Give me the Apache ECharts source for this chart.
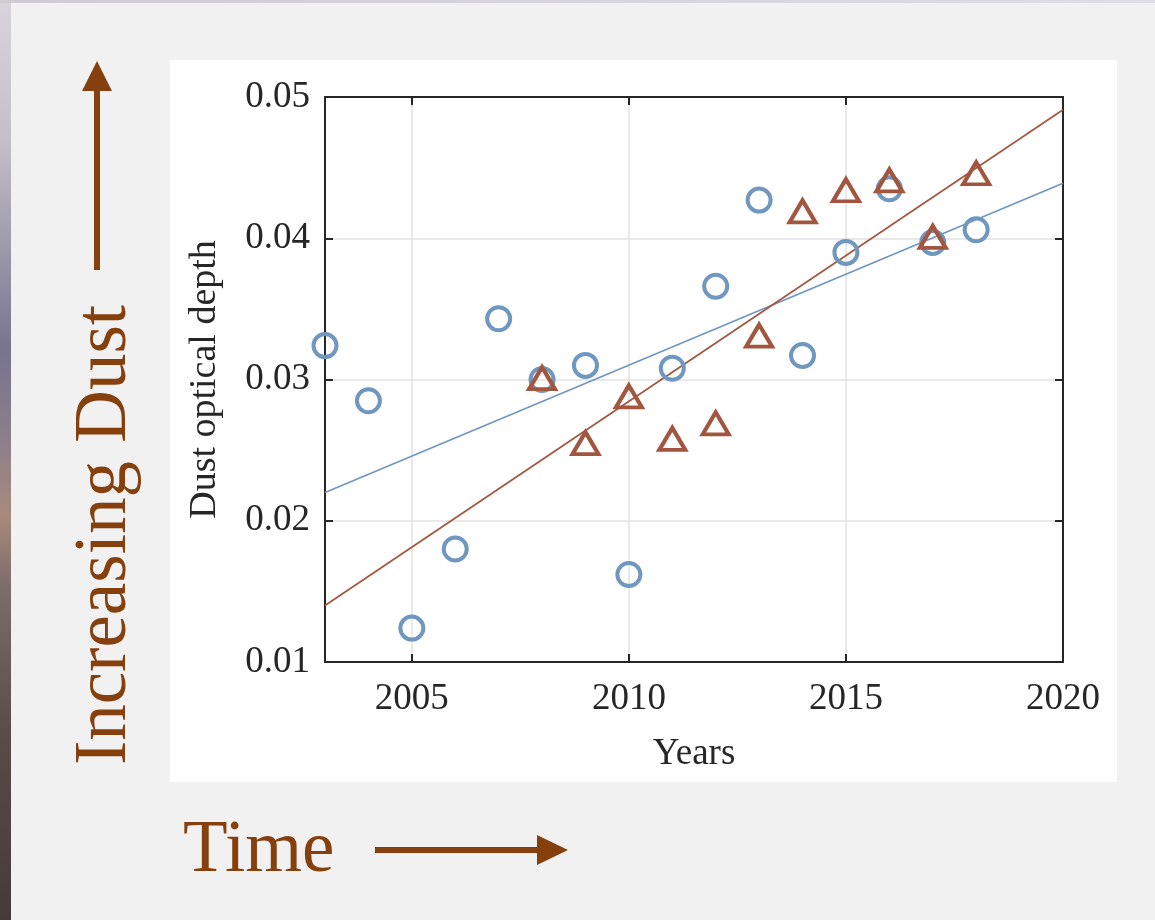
<!DOCTYPE html>
<html>
<head>
<meta charset="utf-8">
<script src="https://cdn.jsdelivr.net/npm/echarts@6/dist/echarts.min.js"></script>
<style>
html,body{margin:0;padding:0;background:#f1f1f1;}
#chart{width:1155px;height:920px;}
</style>
</head>
<body>
<div id="chart"></div>
<script>
// ---- data ----
const circleYears = [2003,2004,2005,2006,2007,2008,2009,2010,2011,2012,2013,2014,2015,2016,2017,2018];
const circleValues = [0.0324,0.0285,0.0124,0.0180,0.0343,0.0300,0.0310,0.0162,0.0308,0.0366,0.0427,0.0317,0.0390,0.0435,0.0397,0.0406];
const triangleYears = [2008,2009,2010,2011,2012,2013,2014,2015,2016,2017,2018];
const triangleValues = [0.0301,0.0255,0.0288,0.0258,0.0269,0.0331,0.0419,0.0434,0.0441,0.0401,0.0446];
const fitYears = [2003,2020];
const circleFit = [0.0220,0.0439];
const triangleFit = [0.0140,0.0491];
const xTicks = [2005,2010,2015,2020];
const yTicks = [0.01,0.02,0.03,0.04,0.05];

const BLUE = '#7097c0';
const RED = '#a3563f';
const BROWN = '#86400e';
const FONT = '"Liberation Serif", "DejaVu Serif", serif';

const pairs = (xs, ys) => xs.map((x, i) => [x, ys[i]]);

const chart = echarts.init(document.getElementById('chart'), null, {renderer: 'canvas'});

const axisLineStyle = {color: '#262626', width: 2};
const baseX = {
  type: 'value', min: 2003, max: 2020,
  axisLine: {show: true, onZero: false, lineStyle: axisLineStyle},
  axisTick: {show: true, inside: true, length: 8, customValues: xTicks, lineStyle: axisLineStyle},
};
const baseY = {
  type: 'value', min: 0.01, max: 0.05, interval: 0.01,
  axisLine: {show: true, onZero: false, lineStyle: axisLineStyle},
  axisTick: {show: true, inside: true, length: 8, lineStyle: axisLineStyle},
};

const option = {
  backgroundColor: '#f1f1f1',
  animation: false,
  grid: {left: 325, top: 97, width: 738, height: 565, containLabel: false},
  xAxis: [
    Object.assign({}, baseX, {
      position: 'bottom',
      name: 'Years', nameLocation: 'middle', nameGap: 74,
      nameTextStyle: {fontFamily: FONT, fontSize: 37, color: '#262626'},
      axisLabel: {show: true, customValues: xTicks, margin: 19, fontFamily: FONT, fontSize: 37, color: '#262626',
        formatter: v => String(v)},
      splitLine: {show: true, lineStyle: {color: '#e2e2e2', width: 1.5}}
    }),
    Object.assign({}, baseX, {
      position: 'top',
      axisLabel: {show: false},
      splitLine: {show: false}
    })
  ],
  yAxis: [
    Object.assign({}, baseY, {
      position: 'left',
      name: 'Dust optical depth', nameLocation: 'middle', nameGap: 101, nameRotate: 90,
      nameTextStyle: {fontFamily: FONT, fontSize: 38, color: '#262626'},
      axisLabel: {show: true, margin: 15, fontFamily: FONT, fontSize: 37, color: '#262626',
        verticalAlign: 'middle', padding: [8, 0, 0, 0],
        formatter: v => v.toFixed(2)},
      splitLine: {show: true, lineStyle: {color: '#e2e2e2', width: 1.5}}
    }),
    Object.assign({}, baseY, {
      position: 'right',
      axisLabel: {show: false},
      splitLine: {show: false}
    })
  ],
  series: [
    {
      type: 'line', xAxisIndex: 0, yAxisIndex: 0,
      data: pairs(fitYears, circleFit), symbol: 'none',
      lineStyle: {color: BLUE, width: 1.7}, z: 3
    },
    {
      type: 'line', xAxisIndex: 0, yAxisIndex: 0,
      data: pairs(fitYears, triangleFit), symbol: 'none',
      lineStyle: {color: RED, width: 1.7}, z: 3
    },
    {
      type: 'scatter', xAxisIndex: 0, yAxisIndex: 0,
      data: pairs(circleYears, circleValues),
      symbol: 'circle', symbolSize: 23,
      itemStyle: {color: 'rgba(0,0,0,0)', borderColor: BLUE, borderWidth: 4, opacity: 1},
      z: 4
    },
    {
      type: 'scatter', xAxisIndex: 0, yAxisIndex: 0,
      data: pairs(triangleYears, triangleValues),
      symbol: 'triangle', symbolSize: [26, 22],
      itemStyle: {color: 'rgba(0,0,0,0)', borderColor: RED, borderWidth: 4, borderJoin: 'miter', opacity: 1},
      z: 5
    }
  ],
  graphic: [
    // left photo strip
    {type: 'rect', z: -100, shape: {x: 0, y: 0, width: 11, height: 920},
      style: {fill: new echarts.graphic.LinearGradient(0, 0, 0, 1, [
        {offset: 0, color: '#d8d4dc'},
        {offset: 0.15, color: '#c4c0ca'},
        {offset: 0.38, color: '#77758d'},
        {offset: 0.48, color: '#8c7f8a'},
        {offset: 0.56, color: '#a88a7c'},
        {offset: 0.64, color: '#7c6c6a'},
        {offset: 0.8, color: '#5a4b4b'},
        {offset: 1, color: '#473a3a'}
      ])}},
    // top strip
    {type: 'rect', z: -100, shape: {x: 0, y: 0, width: 1155, height: 3},
      style: {fill: new echarts.graphic.LinearGradient(0, 0, 1, 0, [
        {offset: 0, color: '#cfcbd3'},
        {offset: 1, color: '#dedde3'}
      ])}},
    // white panel
    {type: 'rect', z: -90, shape: {x: 170, y: 60, width: 947, height: 722},
      style: {fill: '#ffffff'}},
    // vertical arrow
    {type: 'line', z: 10, shape: {x1: 97, y1: 270, x2: 97, y2: 86},
      style: {stroke: BROWN, lineWidth: 6}},
    {type: 'polygon', z: 10, shape: {points: [[82, 91], [112, 91], [97, 61]]},
      style: {fill: BROWN}},
    // horizontal arrow
    {type: 'line', z: 10, shape: {x1: 375, y1: 850, x2: 542, y2: 850},
      style: {stroke: BROWN, lineWidth: 6}},
    {type: 'polygon', z: 10, shape: {points: [[537, 835], [537, 865], [568, 850]]},
      style: {fill: BROWN}},
    // big texts
    {type: 'text', z: 10, x: 106, y: 535, rotation: Math.PI / 2,
      style: {text: 'Increasing Dust', font: '73px ' + FONT, fill: BROWN, align: 'center', verticalAlign: 'middle'}},
    {type: 'text', z: 10, x: 183, y: 852,
      style: {text: 'Time', font: '73px ' + FONT, fill: BROWN, align: 'left', verticalAlign: 'middle'}}
  ]
};
chart.setOption(option);
</script>
</body>
</html>
